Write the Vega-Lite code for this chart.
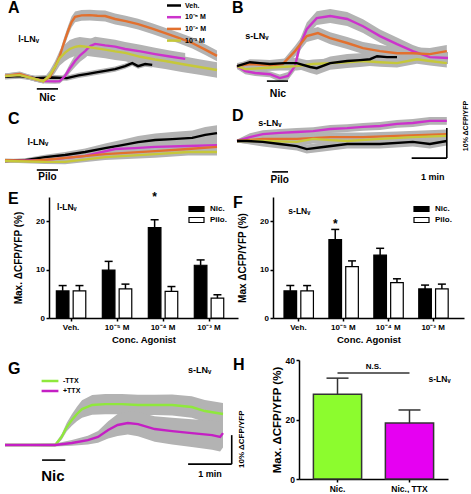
{
"$schema": "https://vega.github.io/schema/vega-lite/v6.json",
"padding": 0,
"background": "white",
"config": {
  "view": {"stroke": null},
  "font": "Liberation Sans",
  "title": {"anchor": "start", "frame": "group", "fontSize": 16, "fontWeight": "bold", "font": "Liberation Sans", "color": "black", "baseline": "alphabetic"},
  "axis": {"domainColor": "black", "tickColor": "black", "labelColor": "black", "titleColor": "black", "labelFont": "Liberation Sans", "titleFont": "Liberation Sans", "labelFontWeight": "bold", "titleFontWeight": "bold", "grid": false, "domainWidth": 1.5, "tickWidth": 1.5, "tickSize": 3, "labelOverlap": false},
  "legend": {"labelFont": "Liberation Sans", "labelFontWeight": "bold", "labelColor": "black", "padding": 0},
  "text": {"font": "Liberation Sans", "fontWeight": "bold", "color": "black"}
},
"datasets": {
  "A": [
    {"s":"Veh.","t":0,"v":-0.3,"lo":-1.2,"hi":0.6},{"s":"Veh.","t":25,"v":0,"lo":-0.9,"hi":0.9},{"s":"Veh.","t":51,"v":-0.7,"lo":-1.6,"hi":0.2},{"s":"Veh.","t":80,"v":-0.5,"lo":-1.4,"hi":0.4},{"s":"Veh.","t":105,"v":-0.7,"lo":-1.6,"hi":0.2},{"s":"Veh.","t":125,"v":0.2,"lo":-0.7,"hi":1.1},{"s":"Veh.","t":141,"v":0.7,"lo":-0.2,"hi":1.6},{"s":"Veh.","t":155,"v":1.2,"lo":0.3,"hi":2.1},{"s":"Veh.","t":170,"v":1.7,"lo":0.8,"hi":2.6},{"s":"Veh.","t":187,"v":2.3,"lo":1.4,"hi":3.2},{"s":"Veh.","t":204,"v":3.3,"lo":2.4,"hi":4.2},{"s":"Veh.","t":216,"v":4.3,"lo":3.4,"hi":5.2},{"s":"Veh.","t":226,"v":3.3,"lo":2.4,"hi":4.2},{"s":"Veh.","t":238,"v":4.0,"lo":3.1,"hi":4.9},{"s":"Veh.","t":250,"v":3.7,"lo":2.8,"hi":4.6},
    {"s":"10\u207b\u2075 M","t":0,"v":0,"lo":-0.8,"hi":0.8},{"s":"10\u207b\u2075 M","t":25,"v":0.5,"lo":-0.3,"hi":1.3},{"s":"10\u207b\u2075 M","t":51,"v":-1,"lo":-1.8,"hi":-0.2},{"s":"10\u207b\u2075 M","t":68,"v":-1.7,"lo":-2.5,"hi":-0.9},{"s":"10\u207b\u2075 M","t":85,"v":-1.8,"lo":-2.6,"hi":-1},{"s":"10\u207b\u2075 M","t":93,"v":-1.7,"lo":-2.5,"hi":-0.9},{"s":"10\u207b\u2075 M","t":102,"v":0,"lo":-1,"hi":1},{"s":"10\u207b\u2075 M","t":110,"v":2.5,"lo":1,"hi":4},{"s":"10\u207b\u2075 M","t":119,"v":5,"lo":3,"hi":7},{"s":"10\u207b\u2075 M","t":128,"v":7,"lo":4.8,"hi":9.2},{"s":"10\u207b\u2075 M","t":136,"v":8.3,"lo":6,"hi":10.6},{"s":"10\u207b\u2075 M","t":145,"v":10,"lo":7.6,"hi":12.4},{"s":"10\u207b\u2075 M","t":153,"v":10.7,"lo":8.3,"hi":13.1},{"s":"10\u207b\u2075 M","t":170,"v":10.2,"lo":7.8,"hi":12.6},{"s":"10\u207b\u2075 M","t":187,"v":9.8,"lo":7.5,"hi":12.1},{"s":"10\u207b\u2075 M","t":204,"v":9,"lo":6.7,"hi":11.3},{"s":"10\u207b\u2075 M","t":230,"v":8.2,"lo":6,"hi":10.4},{"s":"10\u207b\u2075 M","t":255,"v":7.3,"lo":5.2,"hi":9.4},{"s":"10\u207b\u2075 M","t":280,"v":6.5,"lo":4.5,"hi":8.5},{"s":"10\u207b\u2075 M","t":306,"v":5.7,"lo":3.7,"hi":7.7},
    {"s":"10\u207b\u2074 M","t":0,"v":0,"lo":-0.8,"hi":0.8},{"s":"10\u207b\u2074 M","t":25,"v":0.7,"lo":-0.1,"hi":1.5},{"s":"10\u207b\u2074 M","t":51,"v":-1,"lo":-1.8,"hi":-0.2},{"s":"10\u207b\u2074 M","t":65,"v":-1.7,"lo":-2.5,"hi":-0.9},{"s":"10\u207b\u2074 M","t":76,"v":-0.3,"lo":-1.3,"hi":0.7},{"s":"10\u207b\u2074 M","t":85,"v":3,"lo":1.8,"hi":4.2},{"s":"10\u207b\u2074 M","t":93,"v":6.7,"lo":5.3,"hi":8.1},{"s":"10\u207b\u2074 M","t":100,"v":11,"lo":9.4,"hi":12.6},{"s":"10\u207b\u2074 M","t":107,"v":15,"lo":13.3,"hi":16.7},{"s":"10\u207b\u2074 M","t":113,"v":18,"lo":16.2,"hi":19.8},{"s":"10\u207b\u2074 M","t":119,"v":19.7,"lo":17.9,"hi":21.5},{"s":"10\u207b\u2074 M","t":130,"v":20.2,"lo":18.4,"hi":22},{"s":"10\u207b\u2074 M","t":144,"v":20.3,"lo":18.5,"hi":22.1},{"s":"10\u207b\u2074 M","t":157,"v":20.1,"lo":18.3,"hi":21.9},{"s":"10\u207b\u2074 M","t":170,"v":20,"lo":18.2,"hi":21.8},{"s":"10\u207b\u2074 M","t":187,"v":19,"lo":17.2,"hi":20.8},{"s":"10\u207b\u2074 M","t":205,"v":18.3,"lo":16.5,"hi":20.1},{"s":"10\u207b\u2074 M","t":226,"v":17.3,"lo":15.5,"hi":19.1},{"s":"10\u207b\u2074 M","t":250,"v":15.8,"lo":14,"hi":17.6},{"s":"10\u207b\u2074 M","t":272,"v":14.3,"lo":12.5,"hi":16.1},{"s":"10\u207b\u2074 M","t":295,"v":12.7,"lo":10.9,"hi":14.5},{"s":"10\u207b\u2074 M","t":318,"v":11,"lo":9.2,"hi":12.8},{"s":"10\u207b\u2074 M","t":340,"v":8.8,"lo":7,"hi":10.6},{"s":"10\u207b\u2074 M","t":360,"v":6.7,"lo":4.9,"hi":8.5},
    {"s":"10\u207b\u00b3 M","t":0,"v":0,"lo":-0.8,"hi":0.8},{"s":"10\u207b\u00b3 M","t":25,"v":0.3,"lo":-0.5,"hi":1.1},{"s":"10\u207b\u00b3 M","t":51,"v":-1,"lo":-1.8,"hi":-0.2},{"s":"10\u207b\u00b3 M","t":65,"v":-1.7,"lo":-2.5,"hi":-0.9},{"s":"10\u207b\u00b3 M","t":76,"v":0.3,"lo":-1.2,"hi":1.8},{"s":"10\u207b\u00b3 M","t":85,"v":3,"lo":1,"hi":5},{"s":"10\u207b\u00b3 M","t":93,"v":6,"lo":3.5,"hi":8.5},{"s":"10\u207b\u00b3 M","t":102,"v":7.8,"lo":5,"hi":10.6},{"s":"10\u207b\u00b3 M","t":110,"v":9,"lo":6,"hi":12},{"s":"10\u207b\u00b3 M","t":119,"v":9.7,"lo":6.7,"hi":12.7},{"s":"10\u207b\u00b3 M","t":127,"v":10,"lo":7,"hi":13},{"s":"10\u207b\u00b3 M","t":140,"v":9.7,"lo":6.7,"hi":12.7},{"s":"10\u207b\u00b3 M","t":153,"v":9.3,"lo":6.3,"hi":12.3},{"s":"10\u207b\u00b3 M","t":170,"v":8.8,"lo":5.9,"hi":11.7},{"s":"10\u207b\u00b3 M","t":187,"v":8.2,"lo":5.3,"hi":11.1},{"s":"10\u207b\u00b3 M","t":204,"v":7.7,"lo":4.9,"hi":10.5},{"s":"10\u207b\u00b3 M","t":230,"v":6.4,"lo":3.6,"hi":9.2},{"s":"10\u207b\u00b3 M","t":255,"v":5.5,"lo":2.8,"hi":8.2},{"s":"10\u207b\u00b3 M","t":272,"v":5,"lo":2.3,"hi":7.7},{"s":"10\u207b\u00b3 M","t":300,"v":4,"lo":1.3,"hi":6.7},{"s":"10\u207b\u00b3 M","t":330,"v":3,"lo":0.4,"hi":5.6},{"s":"10\u207b\u00b3 M","t":360,"v":2,"lo":-0.6,"hi":4.6}
  ],
  "B": [
    {"s":"10\u207b\u2075 M","t":0,"v":0,"lo":-1,"hi":1},{"s":"10\u207b\u2075 M","t":14,"v":-1.7,"lo":-2.7,"hi":-0.7},{"s":"10\u207b\u2075 M","t":31,"v":-2.3,"lo":-3.3,"hi":-1.3},{"s":"10\u207b\u2075 M","t":56,"v":-2.7,"lo":-3.7,"hi":-1.7},{"s":"10\u207b\u2075 M","t":73,"v":-4,"lo":-5.2,"hi":-2.8},{"s":"10\u207b\u2075 M","t":87,"v":-3.3,"lo":-4.6,"hi":-2},{"s":"10\u207b\u2075 M","t":99,"v":0,"lo":-1.5,"hi":1.5},{"s":"10\u207b\u2075 M","t":107,"v":6.7,"lo":4.7,"hi":8.7},{"s":"10\u207b\u2075 M","t":119,"v":12.3,"lo":10.1,"hi":14.5},{"s":"10\u207b\u2075 M","t":136,"v":16,"lo":13.7,"hi":18.3},{"s":"10\u207b\u2075 M","t":159,"v":16.7,"lo":14.4,"hi":19},{"s":"10\u207b\u2075 M","t":188,"v":15.7,"lo":13.4,"hi":18},{"s":"10\u207b\u2075 M","t":215,"v":13.3,"lo":11,"hi":15.6},{"s":"10\u207b\u2075 M","t":244,"v":10,"lo":7.8,"hi":12.2},{"s":"10\u207b\u2075 M","t":273,"v":7.3,"lo":5.1,"hi":9.5},{"s":"10\u207b\u2075 M","t":300,"v":5,"lo":3,"hi":7},{"s":"10\u207b\u2075 M","t":329,"v":3,"lo":1,"hi":5},{"s":"10\u207b\u2075 M","t":360,"v":2.7,"lo":0.7,"hi":4.7},
    {"s":"10\u207b\u2074 M","t":0,"v":0,"lo":-1,"hi":1},{"s":"10\u207b\u2074 M","t":22,"v":0.7,"lo":-0.3,"hi":1.7},{"s":"10\u207b\u2074 M","t":56,"v":0.3,"lo":-0.7,"hi":1.3},{"s":"10\u207b\u2074 M","t":78,"v":0.7,"lo":-0.5,"hi":1.9},{"s":"10\u207b\u2074 M","t":99,"v":5,"lo":3.2,"hi":6.8},{"s":"10\u207b\u2074 M","t":119,"v":10,"lo":8,"hi":12},{"s":"10\u207b\u2074 M","t":138,"v":11,"lo":9,"hi":13},{"s":"10\u207b\u2074 M","t":159,"v":9.3,"lo":7.3,"hi":11.3},{"s":"10\u207b\u2074 M","t":188,"v":7.7,"lo":5.7,"hi":9.7},{"s":"10\u207b\u2074 M","t":215,"v":6,"lo":4,"hi":8},{"s":"10\u207b\u2074 M","t":244,"v":5,"lo":3,"hi":7},{"s":"10\u207b\u2074 M","t":273,"v":4.3,"lo":2.3,"hi":6.3},{"s":"10\u207b\u2074 M","t":300,"v":4.3,"lo":2.3,"hi":6.3},{"s":"10\u207b\u2074 M","t":329,"v":4,"lo":2,"hi":6},{"s":"10\u207b\u2074 M","t":358,"v":5,"lo":3,"hi":7},
    {"s":"10\u207b\u00b3 M","t":0,"v":0,"lo":-1,"hi":1},{"s":"10\u207b\u00b3 M","t":14,"v":-1,"lo":-2,"hi":0},{"s":"10\u207b\u00b3 M","t":39,"v":-0.7,"lo":-1.7,"hi":0.3},{"s":"10\u207b\u00b3 M","t":73,"v":-0.3,"lo":-1.5,"hi":0.9},{"s":"10\u207b\u00b3 M","t":102,"v":0,"lo":-1.5,"hi":1.5},{"s":"10\u207b\u00b3 M","t":130,"v":0.7,"lo":-0.8,"hi":2.2},{"s":"10\u207b\u00b3 M","t":159,"v":1,"lo":-0.5,"hi":2.5},{"s":"10\u207b\u00b3 M","t":188,"v":1.3,"lo":-0.2,"hi":2.8},{"s":"10\u207b\u00b3 M","t":215,"v":1.7,"lo":0.2,"hi":3.2},{"s":"10\u207b\u00b3 M","t":244,"v":1.3,"lo":-0.2,"hi":2.8},{"s":"10\u207b\u00b3 M","t":273,"v":1,"lo":-0.5,"hi":2.5},{"s":"10\u207b\u00b3 M","t":307,"v":2.3,"lo":0.8,"hi":3.8},{"s":"10\u207b\u00b3 M","t":329,"v":1.7,"lo":0.2,"hi":3.2},{"s":"10\u207b\u00b3 M","t":358,"v":1,"lo":-0.5,"hi":2.5},
    {"s":"Veh.","t":0,"v":0,"lo":-0.8,"hi":0.8},{"s":"Veh.","t":22,"v":1.3,"lo":0.3,"hi":2.3},{"s":"Veh.","t":39,"v":1,"lo":-0.2,"hi":2.2},{"s":"Veh.","t":56,"v":0.7,"lo":-0.6,"hi":2},{"s":"Veh.","t":82,"v":1,"lo":-0.5,"hi":2.5},{"s":"Veh.","t":102,"v":1,"lo":-0.8,"hi":2.8},{"s":"Veh.","t":125,"v":-0.3,"lo":-2.3,"hi":1.7},{"s":"Veh.","t":136,"v":-0.7,"lo":-2.9,"hi":1.5},{"s":"Veh.","t":159,"v":1,"lo":-1.2,"hi":3.2},{"s":"Veh.","t":188,"v":1.7,"lo":-0.6,"hi":4},{"s":"Veh.","t":210,"v":2,"lo":-0.3,"hi":4.3},{"s":"Veh.","t":227,"v":2.3,"lo":0,"hi":4.6},{"s":"Veh.","t":239,"v":3.3,"lo":1,"hi":5.6},{"s":"Veh.","t":256,"v":3,"lo":0.7,"hi":5.3},{"s":"Veh.","t":273,"v":3,"lo":0.7,"hi":5.3}
  ],
  "C": [
    {"s":"Veh.","t":0,"v":0,"lo":-0.5,"hi":0.5},{"s":"Veh.","t":34,"v":0.3,"lo":-0.3,"hi":0.9},{"s":"Veh.","t":68,"v":1.3,"lo":0.5,"hi":2.1},{"s":"Veh.","t":102,"v":2,"lo":1,"hi":3},{"s":"Veh.","t":136,"v":3,"lo":1.8,"hi":4.2},{"s":"Veh.","t":170,"v":4.3,"lo":2.8,"hi":5.8},{"s":"Veh.","t":199,"v":5.3,"lo":3.5,"hi":7.1},{"s":"Veh.","t":226,"v":6.3,"lo":4.3,"hi":8.3},{"s":"Veh.","t":255,"v":7,"lo":4.8,"hi":9.2},{"s":"Veh.","t":284,"v":7.3,"lo":4.9,"hi":9.7},{"s":"Veh.","t":318,"v":7.7,"lo":5.2,"hi":10.2},{"s":"Veh.","t":340,"v":8.7,"lo":6.1,"hi":11.3},{"s":"Veh.","t":360,"v":9.3,"lo":6.7,"hi":11.9},
    {"s":"10\u207b\u2075 M","t":0,"v":0,"lo":-0.5,"hi":0.5},{"s":"10\u207b\u2075 M","t":68,"v":0.3,"lo":-0.5,"hi":1.1},{"s":"10\u207b\u2075 M","t":136,"v":1.7,"lo":0.5,"hi":2.9},{"s":"10\u207b\u2075 M","t":187,"v":4,"lo":2.6,"hi":5.4},{"s":"10\u207b\u2075 M","t":220,"v":4.3,"lo":2.8,"hi":5.8},{"s":"10\u207b\u2075 M","t":255,"v":4.7,"lo":3.2,"hi":6.2},{"s":"10\u207b\u2075 M","t":311,"v":5,"lo":3.5,"hi":6.5},{"s":"10\u207b\u2075 M","t":360,"v":5.3,"lo":3.8,"hi":6.8},
    {"s":"10\u207b\u2074 M","t":0,"v":0.3,"lo":-0.2,"hi":0.8},{"s":"10\u207b\u2074 M","t":42,"v":0,"lo":-0.6,"hi":0.6},{"s":"10\u207b\u2074 M","t":85,"v":0.7,"lo":-0.1,"hi":1.5},{"s":"10\u207b\u2074 M","t":170,"v":2.3,"lo":1.1,"hi":3.5},{"s":"10\u207b\u2074 M","t":255,"v":3.3,"lo":1.9,"hi":4.7},{"s":"10\u207b\u2074 M","t":311,"v":4,"lo":2.5,"hi":5.5},{"s":"10\u207b\u2074 M","t":360,"v":4.7,"lo":3.2,"hi":6.2},
    {"s":"10\u207b\u00b3 M","t":0,"v":0,"lo":-0.5,"hi":0.5},{"s":"10\u207b\u00b3 M","t":68,"v":-0.3,"lo":-1,"hi":0.4},{"s":"10\u207b\u00b3 M","t":102,"v":-0.3,"lo":-1.1,"hi":0.5},{"s":"10\u207b\u00b3 M","t":170,"v":1.3,"lo":0.3,"hi":2.3},{"s":"10\u207b\u00b3 M","t":255,"v":2.3,"lo":1.1,"hi":3.5},{"s":"10\u207b\u00b3 M","t":311,"v":3,"lo":1.8,"hi":4.2},{"s":"10\u207b\u00b3 M","t":360,"v":3,"lo":1.8,"hi":4.2}
  ],
  "D": [
    {"s":"10\u207b\u2075 M","t":0,"v":0,"lo":-0.5,"hi":0.5},{"s":"10\u207b\u2075 M","t":22,"v":1.3,"lo":0,"hi":2.6},{"s":"10\u207b\u2075 M","t":44,"v":2.3,"lo":1,"hi":3.6},{"s":"10\u207b\u2075 M","t":73,"v":2.7,"lo":1.4,"hi":4},{"s":"10\u207b\u2075 M","t":102,"v":3,"lo":1.7,"hi":4.3},{"s":"10\u207b\u2075 M","t":130,"v":3.3,"lo":2,"hi":4.6},{"s":"10\u207b\u2075 M","t":159,"v":4,"lo":2.7,"hi":5.3},{"s":"10\u207b\u2075 M","t":188,"v":4.3,"lo":3,"hi":5.6},{"s":"10\u207b\u2075 M","t":215,"v":4.7,"lo":3.4,"hi":6},{"s":"10\u207b\u2075 M","t":244,"v":5,"lo":3.7,"hi":6.3},{"s":"10\u207b\u2075 M","t":273,"v":5.7,"lo":4.4,"hi":7},{"s":"10\u207b\u2075 M","t":300,"v":6,"lo":4.7,"hi":7.3},{"s":"10\u207b\u2075 M","t":329,"v":6.7,"lo":5.4,"hi":8},{"s":"10\u207b\u2075 M","t":358,"v":6.7,"lo":5.4,"hi":8},
    {"s":"10\u207b\u2074 M","t":0,"v":0,"lo":-0.5,"hi":0.5},{"s":"10\u207b\u2074 M","t":44,"v":0.7,"lo":-0.8,"hi":2.2},{"s":"10\u207b\u2074 M","t":102,"v":0.7,"lo":-0.8,"hi":2.2},{"s":"10\u207b\u2074 M","t":159,"v":1.3,"lo":-0.2,"hi":2.8},{"s":"10\u207b\u2074 M","t":215,"v":1.3,"lo":-0.2,"hi":2.8},{"s":"10\u207b\u2074 M","t":273,"v":1.7,"lo":0.2,"hi":3.2},{"s":"10\u207b\u2074 M","t":358,"v":2.3,"lo":0.8,"hi":3.8},
    {"s":"10\u207b\u00b3 M","t":0,"v":0,"lo":-0.5,"hi":0.5},{"s":"10\u207b\u00b3 M","t":44,"v":0,"lo":-1.5,"hi":1.5},{"s":"10\u207b\u00b3 M","t":102,"v":-0.3,"lo":-1.8,"hi":1.2},{"s":"10\u207b\u00b3 M","t":130,"v":0.7,"lo":-0.8,"hi":2.2},{"s":"10\u207b\u00b3 M","t":159,"v":0.3,"lo":-1.2,"hi":1.8},{"s":"10\u207b\u00b3 M","t":188,"v":0,"lo":-1.5,"hi":1.5},{"s":"10\u207b\u00b3 M","t":244,"v":0.7,"lo":-0.8,"hi":2.2},{"s":"10\u207b\u00b3 M","t":300,"v":1.3,"lo":-0.2,"hi":2.8},{"s":"10\u207b\u00b3 M","t":358,"v":1.7,"lo":0.2,"hi":3.2},
    {"s":"Veh.","t":0,"v":0,"lo":-0.5,"hi":0.5},{"s":"Veh.","t":17,"v":0,"lo":-1,"hi":1},{"s":"Veh.","t":44,"v":-0.3,"lo":-1.8,"hi":1.2},{"s":"Veh.","t":73,"v":-1,"lo":-2.5,"hi":0.5},{"s":"Veh.","t":102,"v":-1.7,"lo":-3.2,"hi":-0.2},{"s":"Veh.","t":119,"v":-2.7,"lo":-4.2,"hi":-1.2},{"s":"Veh.","t":147,"v":-2,"lo":-3.5,"hi":-0.5},{"s":"Veh.","t":188,"v":-1,"lo":-2.5,"hi":0.5},{"s":"Veh.","t":244,"v":-1,"lo":-2.5,"hi":0.5},{"s":"Veh.","t":300,"v":-0.3,"lo":-1.8,"hi":1.2},{"s":"Veh.","t":329,"v":-1,"lo":-2.5,"hi":0.5},{"s":"Veh.","t":358,"v":0,"lo":-1.5,"hi":1.5}
  ],
  "G": [
    {"s":"-TTX","t":0,"v":0,"lo":-0.4,"hi":0.4},{"s":"-TTX","t":34,"v":0,"lo":-0.4,"hi":0.4},{"s":"-TTX","t":69,"v":0,"lo":-0.5,"hi":0.5},{"s":"-TTX","t":78,"v":2.8,"lo":1.8,"hi":3.8},{"s":"-TTX","t":85,"v":6.2,"lo":4.7,"hi":7.7},{"s":"-TTX","t":92,"v":8.6,"lo":6.6,"hi":10.6},{"s":"-TTX","t":99,"v":10.7,"lo":8.2,"hi":13.2},{"s":"-TTX","t":106,"v":12.4,"lo":9.4,"hi":15.4},{"s":"-TTX","t":120,"v":13.8,"lo":10.4,"hi":17.2},{"s":"-TTX","t":138,"v":14.1,"lo":10.6,"hi":17.6},{"s":"-TTX","t":161,"v":14.1,"lo":10.6,"hi":17.6},{"s":"-TTX","t":183,"v":13.8,"lo":10.3,"hi":17.3},{"s":"-TTX","t":206,"v":13.8,"lo":10.3,"hi":17.3},{"s":"-TTX","t":230,"v":13.8,"lo":10.2,"hi":17.4},{"s":"-TTX","t":257,"v":13.1,"lo":9.4,"hi":16.8},{"s":"-TTX","t":275,"v":11.7,"lo":7.9,"hi":15.5},{"s":"-TTX","t":300,"v":10.7,"lo":6.9,"hi":14.5},
    {"s":"+TTX","t":0,"v":0,"lo":-0.4,"hi":0.4},{"s":"+TTX","t":34,"v":0,"lo":-0.4,"hi":0.4},{"s":"+TTX","t":69,"v":0,"lo":-0.5,"hi":0.5},{"s":"+TTX","t":92,"v":0.7,"lo":-0.3,"hi":1.7},{"s":"+TTX","t":114,"v":1.7,"lo":0.2,"hi":3.2},{"s":"+TTX","t":128,"v":2.8,"lo":0.8,"hi":4.8},{"s":"+TTX","t":142,"v":5.2,"lo":2.2,"hi":8.2},{"s":"+TTX","t":155,"v":6.9,"lo":3.1,"hi":10.7},{"s":"+TTX","t":169,"v":7.6,"lo":3.6,"hi":11.6},{"s":"+TTX","t":183,"v":7.2,"lo":3,"hi":11.4},{"s":"+TTX","t":206,"v":5.5,"lo":1.1,"hi":9.9},{"s":"+TTX","t":230,"v":4.8,"lo":0.2,"hi":9.4},{"s":"+TTX","t":257,"v":4.1,"lo":-0.7,"hi":8.9},{"s":"+TTX","t":285,"v":3.4,"lo":-1.6,"hi":8.4},{"s":"+TTX","t":296,"v":2.8,"lo":-2.2,"hi":7.8},{"s":"+TTX","t":300,"v":4.1,"lo":-0.9,"hi":9.1}
  ],
  "E": [
    {"conc":"Veh.","treat":"Nic.","val":5.6,"hi":6.7},{"conc":"Veh.","treat":"Pilo.","val":5.6,"hi":6.7},
    {"conc":"10\u207b\u2075 M","treat":"Nic.","val":9.9,"hi":11.7},{"conc":"10\u207b\u2075 M","treat":"Pilo.","val":6.0,"hi":7.0},
    {"conc":"10\u207b\u2074 M","treat":"Nic.","val":18.7,"hi":20.3},{"conc":"10\u207b\u2074 M","treat":"Pilo.","val":5.5,"hi":6.5},
    {"conc":"10\u207b\u00b3 M","treat":"Nic.","val":10.9,"hi":12.0},{"conc":"10\u207b\u00b3 M","treat":"Pilo.","val":4.1,"hi":4.8}
  ],
  "F": [
    {"conc":"Veh.","treat":"Nic.","val":5.6,"hi":6.7},{"conc":"Veh.","treat":"Pilo.","val":5.6,"hi":6.7},
    {"conc":"10\u207b\u2075 M","treat":"Nic.","val":16.2,"hi":18.3},{"conc":"10\u207b\u2075 M","treat":"Pilo.","val":10.6,"hi":11.8},
    {"conc":"10\u207b\u2074 M","treat":"Nic.","val":13.0,"hi":14.4},{"conc":"10\u207b\u2074 M","treat":"Pilo.","val":7.3,"hi":8.1},
    {"conc":"10\u207b\u00b3 M","treat":"Nic.","val":6.0,"hi":6.8},{"conc":"10\u207b\u00b3 M","treat":"Pilo.","val":6.0,"hi":7.0}
  ],
  "H": [
    {"cond":"Nic.","val":28.5,"hi":33.9},{"cond":"Nic., TTX","val":18.8,"hi":23.2}
  ]
},
"spacing": 3,
"resolve": {"scale": {"color": "independent", "fill": "independent"}},
"vconcat": [
 {"spacing": -8, "resolve": {"scale": {"color": "independent", "fill": "independent"}},
  "vconcat": [
  {"spacing": 10, "resolve": {"scale": {"color": "independent", "fill": "independent"}},
   "hconcat": [
    {"width": 212, "height": 102, "title": {"text": "A", "dx": 3, "offset": -15.5},
     "layer": [
      {"data": {"name": "A"}, "mark": {"type": "area", "color": "#b3b3b3"},
       "encoding": {"x": {"field": "t", "type": "quantitative", "scale": {"domain": [0, 360], "nice": false, "zero": false}, "axis": null},
                    "y": {"field": "lo", "type": "quantitative", "scale": {"domain": [-9, 25], "nice": false, "zero": false}, "axis": null},
                    "y2": {"field": "hi"}, "detail": {"field": "s"}}},
      {"data": {"name": "A"}, "mark": {"type": "line", "strokeWidth": 2.4},
       "encoding": {"x": {"field": "t", "type": "quantitative", "scale": {"domain": [0, 360], "nice": false, "zero": false}, "axis": null},
                    "y": {"field": "v", "type": "quantitative", "scale": {"domain": [-9, 25], "nice": false, "zero": false}, "axis": null},
                    "color": {"field": "s", "type": "nominal", "scale": {"domain": ["Veh.", "10\u207b\u2075 M", "10\u207b\u2074 M", "10\u207b\u00b3 M"], "range": ["#000000", "#cc33cc", "#e2702e", "#c6c83a"]},
                              "legend": {"orient": "none", "legendX": 164, "legendY": -0.5, "title": null, "symbolType": "M-2,0H2", "symbolSize": 49, "symbolStrokeWidth": 2.5, "labelFontSize": 7, "rowPadding": 1.7, "labelOffset": 6, "padding": 0}}}},
      {"data": {"values": [{"t": 54, "t2": 90, "v": -4.3, "v2": -4.3}]}, "mark": {"type": "rule", "strokeWidth": 1.6, "color": "black"},
       "encoding": {"x": {"field": "t", "type": "quantitative", "scale": {"domain": [0, 360], "nice": false, "zero": false}}, "x2": {"field": "t2"}, "y": {"field": "v", "type": "quantitative", "scale": {"domain": [-9, 25], "nice": false, "zero": false}}, "y2": {"field": "v2"}}},
      {"data": {"values": [{"t": 72, "v": -7.3, "label": "Nic"}]}, "mark": {"type": "text", "fontSize": 10.5, "baseline": "middle"},
       "encoding": {"x": {"field": "t", "type": "quantitative", "scale": {"domain": [0, 360], "nice": false, "zero": false}}, "y": {"field": "v", "type": "quantitative", "scale": {"domain": [-9, 25], "nice": false, "zero": false}}, "text": {"field": "label"}}},
      {"data": {"values": [{"t": 40, "v": 12.3, "label": "l-LN\u1d65"}]}, "mark": {"type": "text", "fontSize": 9, "baseline": "middle"},
       "encoding": {"x": {"field": "t", "type": "quantitative", "scale": {"domain": [0, 360], "nice": false, "zero": false}}, "y": {"field": "v", "type": "quantitative", "scale": {"domain": [-9, 25], "nice": false, "zero": false}}, "text": {"field": "label"}}}
     ]},
    {"width": 211, "height": 102, "title": {"text": "B", "dx": -5, "offset": -15},
     "layer": [
      {"data": {"name": "B"}, "mark": {"type": "area", "color": "#b3b3b3"},
       "encoding": {"x": {"field": "t", "type": "quantitative", "scale": {"domain": [0, 360], "nice": false, "zero": false}, "axis": null},
                    "y": {"field": "lo", "type": "quantitative", "scale": {"domain": [-12.3, 21.7], "nice": false, "zero": false}, "axis": null},
                    "y2": {"field": "hi"}, "detail": {"field": "s"}}},
      {"data": {"name": "B"}, "mark": {"type": "line", "strokeWidth": 2.4},
       "encoding": {"x": {"field": "t", "type": "quantitative", "scale": {"domain": [0, 360], "nice": false, "zero": false}, "axis": null},
                    "y": {"field": "v", "type": "quantitative", "scale": {"domain": [-12.3, 21.7], "nice": false, "zero": false}, "axis": null},
                    "color": {"field": "s", "type": "nominal", "scale": {"domain": ["Veh.", "10\u207b\u2075 M", "10\u207b\u2074 M", "10\u207b\u00b3 M"], "range": ["#000000", "#cc33cc", "#e2702e", "#c6c83a"]}, "legend": null}}},
      {"data": {"values": [{"t": 51, "t2": 87, "v": -5, "v2": -5}]}, "mark": {"type": "rule", "strokeWidth": 1.6, "color": "black"},
       "encoding": {"x": {"field": "t", "type": "quantitative", "scale": {"domain": [0, 360], "nice": false, "zero": false}}, "x2": {"field": "t2"}, "y": {"field": "v", "type": "quantitative", "scale": {"domain": [-12.3, 21.7], "nice": false, "zero": false}}, "y2": {"field": "v2"}}},
      {"data": {"values": [{"t": 70, "v": -9.3, "label": "Nic"}]}, "mark": {"type": "text", "fontSize": 10.5, "baseline": "middle"},
       "encoding": {"x": {"field": "t", "type": "quantitative", "scale": {"domain": [0, 360], "nice": false, "zero": false}}, "y": {"field": "v", "type": "quantitative", "scale": {"domain": [-12.3, 21.7], "nice": false, "zero": false}}, "text": {"field": "label"}}},
      {"data": {"values": [{"t": 34, "v": 10, "label": "s-LN\u1d65"}]}, "mark": {"type": "text", "fontSize": 9, "baseline": "middle"},
       "encoding": {"x": {"field": "t", "type": "quantitative", "scale": {"domain": [0, 360], "nice": false, "zero": false}}, "y": {"field": "v", "type": "quantitative", "scale": {"domain": [-12.3, 21.7], "nice": false, "zero": false}}, "text": {"field": "label"}}}
     ]}
   ]},
  {"spacing": 10, "resolve": {"scale": {"color": "independent", "fill": "independent"}},
   "hconcat": [
    {"width": 212, "height": 84, "title": {"text": "C", "dx": 3, "offset": -23},
     "layer": [
      {"data": {"name": "C"}, "mark": {"type": "area", "color": "#b3b3b3"},
       "encoding": {"x": {"field": "t", "type": "quantitative", "scale": {"domain": [0, 360], "nice": false, "zero": false}, "axis": null},
                    "y": {"field": "lo", "type": "quantitative", "scale": {"domain": [-9, 19], "nice": false, "zero": false}, "axis": null},
                    "y2": {"field": "hi"}, "detail": {"field": "s"}}},
      {"data": {"name": "C"}, "mark": {"type": "line", "strokeWidth": 2.4},
       "encoding": {"x": {"field": "t", "type": "quantitative", "scale": {"domain": [0, 360], "nice": false, "zero": false}, "axis": null},
                    "y": {"field": "v", "type": "quantitative", "scale": {"domain": [-9, 19], "nice": false, "zero": false}, "axis": null},
                    "color": {"field": "s", "type": "nominal", "scale": {"domain": ["10\u207b\u00b3 M", "10\u207b\u2074 M", "10\u207b\u2075 M", "Veh."], "range": ["#c6c83a", "#e2702e", "#cc33cc", "#000000"]}, "legend": null}}},
      {"data": {"values": [{"t": 54, "t2": 90, "v": -3, "v2": -3}]}, "mark": {"type": "rule", "strokeWidth": 1.6, "color": "black"},
       "encoding": {"x": {"field": "t", "type": "quantitative", "scale": {"domain": [0, 360], "nice": false, "zero": false}}, "x2": {"field": "t2"}, "y": {"field": "v", "type": "quantitative", "scale": {"domain": [-9, 19], "nice": false, "zero": false}}, "y2": {"field": "v2"}}},
      {"data": {"values": [{"t": 72, "v": -5.3, "label": "Pilo"}]}, "mark": {"type": "text", "fontSize": 10, "baseline": "middle"},
       "encoding": {"x": {"field": "t", "type": "quantitative", "scale": {"domain": [0, 360], "nice": false, "zero": false}}, "y": {"field": "v", "type": "quantitative", "scale": {"domain": [-9, 19], "nice": false, "zero": false}}, "text": {"field": "label"}}},
      {"data": {"values": [{"t": 56, "v": 6.3, "label": "l-LN\u1d65"}]}, "mark": {"type": "text", "fontSize": 9, "baseline": "middle"},
       "encoding": {"x": {"field": "t", "type": "quantitative", "scale": {"domain": [0, 360], "nice": false, "zero": false}}, "y": {"field": "v", "type": "quantitative", "scale": {"domain": [-9, 19], "nice": false, "zero": false}}, "text": {"field": "label"}}}
     ]},
    {"width": 211, "height": 84, "title": {"text": "D", "dx": -5, "offset": -23},
     "layer": [
      {"data": {"name": "D"}, "mark": {"type": "area", "color": "#b3b3b3"},
       "encoding": {"x": {"field": "t", "type": "quantitative", "scale": {"domain": [0, 360], "nice": false, "zero": false}, "axis": null},
                    "y": {"field": "lo", "type": "quantitative", "scale": {"domain": [-15.67, 12.33], "nice": false, "zero": false}, "axis": null},
                    "y2": {"field": "hi"}, "detail": {"field": "s"}}},
      {"data": {"name": "D"}, "mark": {"type": "line", "strokeWidth": 2.4},
       "encoding": {"x": {"field": "t", "type": "quantitative", "scale": {"domain": [0, 360], "nice": false, "zero": false}, "axis": null},
                    "y": {"field": "v", "type": "quantitative", "scale": {"domain": [-15.67, 12.33], "nice": false, "zero": false}, "axis": null},
                    "color": {"field": "s", "type": "nominal", "scale": {"domain": ["10\u207b\u00b3 M", "10\u207b\u2074 M", "10\u207b\u2075 M", "Veh."], "range": ["#c6c83a", "#e2702e", "#cc33cc", "#000000"]}, "legend": null}}},
      {"data": {"values": [{"t": 60, "t2": 87, "v": -10.3, "v2": -10.3}, {"t": 298, "t2": 358, "v": -5.7, "v2": -5.7}, {"t": 358, "t2": 358, "v": 4.3, "v2": -5.7}]}, "mark": {"type": "rule", "strokeWidth": 1.6, "color": "black"},
       "encoding": {"x": {"field": "t", "type": "quantitative", "scale": {"domain": [0, 360], "nice": false, "zero": false}}, "x2": {"field": "t2"}, "y": {"field": "v", "type": "quantitative", "scale": {"domain": [-15.67, 12.33], "nice": false, "zero": false}}, "y2": {"field": "v2"}}},
      {"data": {"values": [{"t": 73, "v": -13, "label": "Pilo"}]}, "mark": {"type": "text", "fontSize": 10, "baseline": "middle"},
       "encoding": {"x": {"field": "t", "type": "quantitative", "scale": {"domain": [0, 360], "nice": false, "zero": false}}, "y": {"field": "v", "type": "quantitative", "scale": {"domain": [-15.67, 12.33], "nice": false, "zero": false}}, "text": {"field": "label"}}},
      {"data": {"values": [{"t": 334, "v": -12, "label": "1 min"}, {"t": 56, "v": 6, "label": "s-LN\u1d65"}]}, "mark": {"type": "text", "fontSize": 9, "baseline": "middle"},
       "encoding": {"x": {"field": "t", "type": "quantitative", "scale": {"domain": [0, 360], "nice": false, "zero": false}}, "y": {"field": "v", "type": "quantitative", "scale": {"domain": [-15.67, 12.33], "nice": false, "zero": false}}, "text": {"field": "label"}}},
      {"data": {"values": [{"t": 390, "v": 5, "label": "10% \u0394CFP/YFP"}]}, "mark": {"type": "text", "fontSize": 7, "angle": 270, "baseline": "middle"},
       "encoding": {"x": {"field": "t", "type": "quantitative", "scale": {"domain": [0, 360], "nice": false, "zero": false}}, "y": {"field": "v", "type": "quantitative", "scale": {"domain": [-15.67, 12.33], "nice": false, "zero": false}}, "text": {"field": "label"}}}
     ]}
   ]}
 ]},
 {"spacing": 12, "resolve": {"scale": {"color": "independent", "fill": "independent"}},
  "vconcat": [
  {"spacing": -5, "resolve": {"scale": {"color": "independent", "fill": "independent"}},
   "hconcat": [
    {"width": 8, "height": 1, "data": {"values": [{"t": 0}]}, "mark": {"type": "point", "opacity": 0}, "encoding": {}},
    {"width": 189, "height": 121, "title": {"text": "E", "dx": -41, "offset": -16},
     "layer": [
      {"data": {"name": "E"}, "mark": {"type": "bar", "stroke": "black", "strokeWidth": 1.2},
       "encoding": {
         "x": {"field": "conc", "type": "nominal", "sort": ["Veh.", "10\u207b\u2075 M", "10\u207b\u2074 M", "10\u207b\u00b3 M"], "scale": {"paddingInner": 0.36, "paddingOuter": 0.235, "align": 0.34}, "axis": {"title": "Conc. Agonist", "labelAngle": 0, "labelFontSize": 8, "titleFontSize": 9.5, "titlePadding": 3, "labelPadding": 2, "bandPosition": 0.5}},
         "xOffset": {"field": "treat", "type": "nominal", "sort": ["Nic.", "Pilo."], "scale": {"paddingInner": 0.25}},
         "y": {"field": "val", "type": "quantitative", "scale": {"domain": [0, 25], "nice": false, "zero": false}, "axis": {"values": [0, 5, 10, 15, 20, 25], "title": "Max. \u0394CFP/YFP (%)", "labelFontSize": 8, "labelPadding": 1.5, "titleFontSize": 10, "titlePadding": 12}},
         "fill": {"field": "treat", "type": "nominal", "scale": {"domain": ["Nic.", "Pilo."], "range": ["#000000", "#ffffff"]},
                  "legend": {"orient": "none", "legendX": 141.5, "legendY": 6, "title": null, "symbolType": "M-1.5,-0.5H1.5V0.5H-1.5Z", "symbolSize": 100, "symbolStrokeColor": "black", "symbolStrokeWidth": 1.2, "labelFontSize": 8, "labelOffset": 7.5, "rowPadding": 0, "padding": 0}}}},
      {"data": {"name": "E"}, "mark": {"type": "rule", "strokeWidth": 1.5, "color": "black"},
       "encoding": {
         "x": {"field": "conc", "type": "nominal", "sort": ["Veh.", "10\u207b\u2075 M", "10\u207b\u2074 M", "10\u207b\u00b3 M"]},
         "xOffset": {"field": "treat", "type": "nominal", "sort": ["Nic.", "Pilo."]},
         "y": {"field": "val", "type": "quantitative", "scale": {"domain": [0, 25], "nice": false, "zero": false}}, "y2": {"field": "hi"}}},
      {"data": {"name": "E"}, "mark": {"type": "tick", "orient": "horizontal", "thickness": 1.5, "size": 8, "color": "black", "opacity": 1},
       "encoding": {
         "x": {"field": "conc", "type": "nominal", "sort": ["Veh.", "10\u207b\u2075 M", "10\u207b\u2074 M", "10\u207b\u00b3 M"]},
         "xOffset": {"field": "treat", "type": "nominal", "sort": ["Nic.", "Pilo."]},
         "y": {"field": "hi", "type": "quantitative", "scale": {"domain": [0, 25], "nice": false, "zero": false}}}},
      {"data": {"values": [{"conc": "10\u207b\u2074 M", "treat": "Nic.", "val": 25, "label": "*"}]}, "mark": {"type": "text", "fontSize": 12, "baseline": "middle"},
       "encoding": {
         "x": {"field": "conc", "type": "nominal", "sort": ["Veh.", "10\u207b\u2075 M", "10\u207b\u2074 M", "10\u207b\u00b3 M"]},
         "xOffset": {"field": "treat", "type": "nominal", "sort": ["Nic.", "Pilo."]},
         "y": {"field": "val", "type": "quantitative", "scale": {"domain": [0, 25], "nice": false, "zero": false}}, "text": {"field": "label"}}},
      {"data": {"values": [{"conc": "Veh.", "val": 22.9, "label": "l-LN\u1d65"}]}, "mark": {"type": "text", "fontSize": 8.5, "baseline": "middle", "align": "left", "dx": -14},
       "encoding": {
         "x": {"field": "conc", "type": "nominal", "sort": ["Veh.", "10\u207b\u2075 M", "10\u207b\u2074 M", "10\u207b\u00b3 M"]},
         "y": {"field": "val", "type": "quantitative", "scale": {"domain": [0, 25], "nice": false, "zero": false}}, "text": {"field": "label"}}}
     ]},
    {"width": 191, "height": 121, "title": {"text": "F", "dx": -40, "offset": -14},
     "layer": [
      {"data": {"name": "F"}, "mark": {"type": "bar", "stroke": "black", "strokeWidth": 1.2},
       "encoding": {
         "x": {"field": "conc", "type": "nominal", "sort": ["Veh.", "10\u207b\u2075 M", "10\u207b\u2074 M", "10\u207b\u00b3 M"], "scale": {"paddingInner": 0.36, "paddingOuter": 0.306, "align": 0.4}, "axis": {"title": "Conc. Agonist", "labelAngle": 0, "labelFontSize": 8, "titleFontSize": 9.5, "titlePadding": 3, "labelPadding": 2, "bandPosition": 0.5}},
         "xOffset": {"field": "treat", "type": "nominal", "sort": ["Nic.", "Pilo."], "scale": {"paddingInner": 0.25}},
         "y": {"field": "val", "type": "quantitative", "scale": {"domain": [0, 25], "nice": false, "zero": false}, "axis": {"values": [0, 5, 10, 15, 20, 25], "title": "Max \u0394CFP/YFP (%)", "labelFontSize": 8, "labelPadding": 1.5, "titleFontSize": 10, "titlePadding": 12}},
         "fill": {"field": "treat", "type": "nominal", "scale": {"domain": ["Nic.", "Pilo."], "range": ["#000000", "#ffffff"]},
                  "legend": {"orient": "none", "legendX": 142.5, "legendY": 6, "title": null, "symbolType": "M-1.5,-0.5H1.5V0.5H-1.5Z", "symbolSize": 100, "symbolStrokeColor": "black", "symbolStrokeWidth": 1.2, "labelFontSize": 8, "labelOffset": 7.5, "rowPadding": 0, "padding": 0}}}},
      {"data": {"name": "F"}, "mark": {"type": "rule", "strokeWidth": 1.5, "color": "black"},
       "encoding": {
         "x": {"field": "conc", "type": "nominal", "sort": ["Veh.", "10\u207b\u2075 M", "10\u207b\u2074 M", "10\u207b\u00b3 M"]},
         "xOffset": {"field": "treat", "type": "nominal", "sort": ["Nic.", "Pilo."]},
         "y": {"field": "val", "type": "quantitative", "scale": {"domain": [0, 25], "nice": false, "zero": false}}, "y2": {"field": "hi"}}},
      {"data": {"name": "F"}, "mark": {"type": "tick", "orient": "horizontal", "thickness": 1.5, "size": 8, "color": "black", "opacity": 1},
       "encoding": {
         "x": {"field": "conc", "type": "nominal", "sort": ["Veh.", "10\u207b\u2075 M", "10\u207b\u2074 M", "10\u207b\u00b3 M"]},
         "xOffset": {"field": "treat", "type": "nominal", "sort": ["Nic.", "Pilo."]},
         "y": {"field": "hi", "type": "quantitative", "scale": {"domain": [0, 25], "nice": false, "zero": false}}}},
      {"data": {"values": [{"conc": "10\u207b\u2075 M", "treat": "Nic.", "val": 19.5, "label": "*"}]}, "mark": {"type": "text", "fontSize": 12, "baseline": "middle"},
       "encoding": {
         "x": {"field": "conc", "type": "nominal", "sort": ["Veh.", "10\u207b\u2075 M", "10\u207b\u2074 M", "10\u207b\u00b3 M"]},
         "xOffset": {"field": "treat", "type": "nominal", "sort": ["Nic.", "Pilo."]},
         "y": {"field": "val", "type": "quantitative", "scale": {"domain": [0, 25], "nice": false, "zero": false}}, "text": {"field": "label"}}},
      {"data": {"values": [{"conc": "Veh.", "val": 22.1, "label": "s-LN\u1d65"}]}, "mark": {"type": "text", "fontSize": 8.5, "baseline": "middle", "align": "left", "dx": -10},
       "encoding": {
         "x": {"field": "conc", "type": "nominal", "sort": ["Veh.", "10\u207b\u2075 M", "10\u207b\u2074 M", "10\u207b\u00b3 M"]},
         "y": {"field": "val", "type": "quantitative", "scale": {"domain": [0, 25], "nice": false, "zero": false}}, "text": {"field": "label"}}}
     ]}
   ]},
  {"spacing": -13, "resolve": {"scale": {"color": "independent", "fill": "independent"}},
   "hconcat": [
    {"width": 218, "height": 132, "title": {"text": "G", "dx": 3, "offset": -17},
     "layer": [
      {"data": {"name": "G"}, "mark": {"type": "area", "color": "#b3b3b3"},
       "encoding": {"x": {"field": "t", "type": "quantitative", "scale": {"domain": [0, 300], "nice": false, "zero": false}, "axis": null},
                    "y": {"field": "lo", "type": "quantitative", "scale": {"domain": [-16.2, 29.3], "nice": false, "zero": false}, "axis": null},
                    "y2": {"field": "hi"}, "detail": {"field": "s"}}},
      {"data": {"name": "G"}, "mark": {"type": "line", "strokeWidth": 2.4},
       "encoding": {"x": {"field": "t", "type": "quantitative", "scale": {"domain": [0, 300], "nice": false, "zero": false}, "axis": null},
                    "y": {"field": "v", "type": "quantitative", "scale": {"domain": [-16.2, 29.3], "nice": false, "zero": false}, "axis": null},
                    "color": {"field": "s", "type": "nominal", "scale": {"domain": ["-TTX", "+TTX"], "range": ["#8fe83c", "#c41fc4"]},
                              "legend": {"orient": "none", "legendX": 40, "legendY": 16, "title": null, "symbolType": "M-2.4,0H2.4", "symbolSize": 49, "symbolStrokeWidth": 2.5, "labelFontSize": 7, "rowPadding": 0, "labelOffset": 8, "padding": 0}}}},
      {"data": {"values": [{"t": 51, "t2": 83, "v": -5.2, "v2": -5.2}, {"t": 252, "t2": 312, "v": -6.6, "v2": -6.6}, {"t": 312, "t2": 312, "v": 3.4, "v2": -6.6}]}, "mark": {"type": "rule", "strokeWidth": 1.6, "color": "black"},
       "encoding": {"x": {"field": "t", "type": "quantitative", "scale": {"domain": [0, 300], "nice": false, "zero": false}}, "x2": {"field": "t2"}, "y": {"field": "v", "type": "quantitative", "scale": {"domain": [-16.2, 29.3], "nice": false, "zero": false}}, "y2": {"field": "v2"}}},
      {"data": {"values": [{"t": 66, "v": -10.6, "label": "Nic"}]}, "mark": {"type": "text", "fontSize": 15, "baseline": "middle"},
       "encoding": {"x": {"field": "t", "type": "quantitative", "scale": {"domain": [0, 300], "nice": false, "zero": false}}, "y": {"field": "v", "type": "quantitative", "scale": {"domain": [-16.2, 29.3], "nice": false, "zero": false}}, "text": {"field": "label"}}},
      {"data": {"values": [{"t": 282, "v": -10, "label": "1 min"}, {"t": 268, "v": 25.9, "label": "s-LN\u1d65"}]}, "mark": {"type": "text", "fontSize": 9, "baseline": "middle"},
       "encoding": {"x": {"field": "t", "type": "quantitative", "scale": {"domain": [0, 300], "nice": false, "zero": false}}, "y": {"field": "v", "type": "quantitative", "scale": {"domain": [-16.2, 29.3], "nice": false, "zero": false}}, "text": {"field": "label"}}},
      {"data": {"values": [{"t": 326, "v": 2, "label": "10% \u0394CFP/YFP"}]}, "mark": {"type": "text", "fontSize": 8, "angle": 270, "baseline": "middle"},
       "encoding": {"x": {"field": "t", "type": "quantitative", "scale": {"domain": [0, 300], "nice": false, "zero": false}}, "y": {"field": "v", "type": "quantitative", "scale": {"domain": [-16.2, 29.3], "nice": false, "zero": false}}, "text": {"field": "label"}}}
     ]},
    {"width": 149, "height": 119, "title": {"text": "H", "dx": -66, "offset": -17},
     "layer": [
      {"data": {"name": "H"}, "mark": {"type": "bar", "stroke": "#333333", "strokeWidth": 1.5},
       "encoding": {
         "x": {"field": "cond", "type": "nominal", "sort": ["Nic.", "Nic., TTX"], "scale": {"paddingInner": 0.33, "paddingOuter": 0.2}, "axis": {"title": null, "labelAngle": 0, "labelFontSize": 8.5, "labelPadding": 2, "bandPosition": 0.5}},
         "y": {"field": "val", "type": "quantitative", "scale": {"domain": [0, 40], "nice": false, "zero": false}, "axis": {"values": [0, 10, 20, 30, 40], "title": "Max. \u0394CFP/YFP (%)", "labelFontSize": 8.5, "labelPadding": 1.5, "titleFontSize": 11.5, "titlePadding": 3}},
         "fill": {"field": "cond", "type": "nominal", "scale": {"domain": ["Nic.", "Nic., TTX"], "range": ["#8cfc2e", "#e600f2"]}, "legend": null}}},
      {"data": {"name": "H"}, "mark": {"type": "rule", "strokeWidth": 1.5, "color": "#333333"},
       "encoding": {"x": {"field": "cond", "type": "nominal", "sort": ["Nic.", "Nic., TTX"]}, "y": {"field": "val", "type": "quantitative", "scale": {"domain": [0, 40], "nice": false, "zero": false}}, "y2": {"field": "hi"}}},
      {"data": {"name": "H"}, "mark": {"type": "tick", "orient": "horizontal", "thickness": 1.5, "size": 22, "color": "#333333", "opacity": 1},
       "encoding": {"x": {"field": "cond", "type": "nominal", "sort": ["Nic.", "Nic., TTX"]}, "y": {"field": "hi", "type": "quantitative", "scale": {"domain": [0, 40], "nice": false, "zero": false}}}},
      {"data": {"values": [{"cond": "Nic.", "cond2": "Nic., TTX", "val": 35.6}]}, "mark": {"type": "rule", "strokeWidth": 1.5, "color": "#333333"},
       "encoding": {"x": {"field": "cond", "type": "nominal", "sort": ["Nic.", "Nic., TTX"], "bandPosition": 0.5}, "x2": {"field": "cond2", "bandPosition": 0.5}, "y": {"field": "val", "type": "quantitative", "scale": {"domain": [0, 40], "nice": false, "zero": false}}}},
      {"data": {"values": [{"cond": "Nic.", "val": 37.8, "label": "N.S."}]}, "mark": {"type": "text", "fontSize": 8, "baseline": "middle", "dx": 36},
       "encoding": {"x": {"field": "cond", "type": "nominal", "sort": ["Nic.", "Nic., TTX"]}, "y": {"field": "val", "type": "quantitative", "scale": {"domain": [0, 40], "nice": false, "zero": false}}, "text": {"field": "label"}}},
      {"data": {"values": [{"cond": "Nic., TTX", "val": 33.6, "label": "s-LN\u1d65"}]}, "mark": {"type": "text", "fontSize": 8.5, "baseline": "middle", "dx": 30},
       "encoding": {"x": {"field": "cond", "type": "nominal", "sort": ["Nic.", "Nic., TTX"]}, "y": {"field": "val", "type": "quantitative", "scale": {"domain": [0, 40], "nice": false, "zero": false}}, "text": {"field": "label"}}}
     ]}
   ]}
 ]}
]
}
